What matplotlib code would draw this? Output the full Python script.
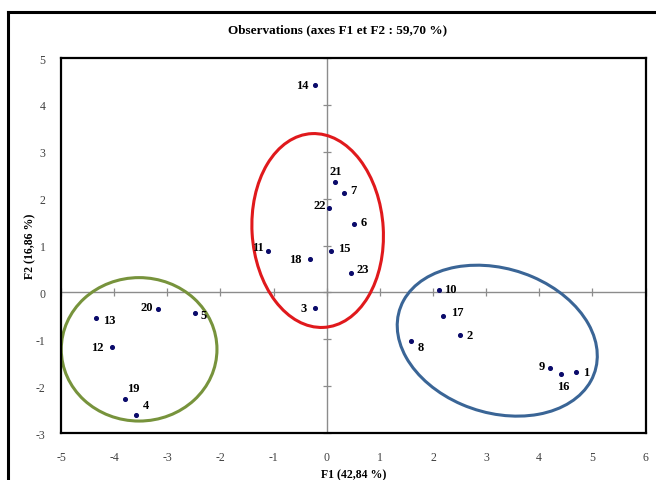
import matplotlib
matplotlib.use("Agg")
import matplotlib.pyplot as plt
from matplotlib.patches import Ellipse
from matplotlib.lines import Line2D

plt.rcParams["font.family"] = ["Liberation Serif", "DejaVu Serif"]
plt.rcParams["axes.unicode_minus"] = False

# observations (F1, F2)
labels = ["1", "2", "3", "4", "5", "6", "7", "8", "9", "10", "11", "12",
          "13", "14", "15", "16", "17", "18", "19", "20", "21", "22", "23"]
f1 = [4.69, 2.50, -0.22, -3.59, -2.48, 0.51, 0.32, 1.59, 4.21, 2.11, -1.10, -4.04,
      -4.34, -0.22, 0.08, 4.41, 2.18, -0.31, -3.79, -3.17, 0.15, 0.04, 0.45]
f2 = [-1.69, -0.91, -0.33, -2.62, -0.45, 1.45, 2.13, -1.04, -1.61, 0.05, 0.88, -1.17,
      -0.55, 4.43, 0.88, -1.75, -0.51, 0.72, -2.28, -0.35, 2.35, 1.81, 0.42]

x_ticks = list(range(-5, 7))
y_ticks = list(range(-3, 6))

# label offsets (points) and alignment
offsets = {
    "1": (5, 0, "left"), "2": (5, 0, "left"), "3": (-6, 0, "right"),
    "4": (5, 7, "left"), "5": (4, -1, "left"), "6": (5, 2, "left"),
    "7": (5, 2, "left"), "8": (5, -4, "left"), "9": (-4, 1, "right"),
    "10": (4, 1, "left"), "11": (-3, 3, "right"), "12": (-6, 0, "right"),
    "13": (5, -1, "left"), "14": (-5, 0, "right"), "15": (5, 2, "left"),
    "16": (-3, -8, "left"), "17": (6, 3, "left"), "18": (-6, 0, "right"),
    "19": (1, 8, "left"), "20": (-4, 1, "right"), "21": (-4, 8, "left"),
    "22": (-2, 2, "right"), "23": (4, 3, "left"),
}

fig = plt.figure(figsize=(6.56, 4.81), dpi=100)
ax = fig.add_axes([0.093, 0.0977, 0.891, 0.7796])

ax.set_xlim(-5, 6)
ax.set_ylim(-3, 5)
ax.set_xticks(x_ticks)
ax.set_yticks(y_ticks)
ax.tick_params(length=0, labelsize=8.5, labelcolor="#404040", pad=13)
ax.tick_params(axis="y", pad=11)
for s in ax.spines.values():
    s.set_linewidth(1.6)
    s.set_color("black")

# zero axes with crossing ticks
ax.axhline(0, color="#8c8c8c", lw=1, zorder=1)
ax.axvline(0, color="#8c8c8c", lw=1, zorder=1)
ax.plot(x_ticks, [0] * len(x_ticks), ls="none", marker="|", ms=6, mew=0.9,
        color="#8c8c8c", zorder=1, clip_on=False)
ax.plot([0] * len(y_ticks), y_ticks, ls="none", marker="_", ms=6, mew=0.9,
        color="#8c8c8c", zorder=1, clip_on=False)

ax.scatter(f1, f2, s=7, color="#0a0a6a", zorder=3)
for lab, x, y in zip(labels, f1, f2):
    dx, dy, ha = offsets[lab]
    ax.annotate(lab, (x, y), xytext=(dx, dy), textcoords="offset points",
                ha=ha, va="center", fontsize=9, fontweight="bold")

# group ellipses
ax.add_patch(Ellipse((-0.17, 1.32), 2.47, 4.14, angle=3, fill=False,
                     ec="#e0191c", lw=2.2, zorder=2))
ax.add_patch(Ellipse((-3.53, -1.215), 2.93, 3.06, angle=0, fill=False,
                     ec="#77933c", lw=2.2, zorder=2))
ax.add_patch(Ellipse((3.21, -1.03), 3.92, 3.03, angle=-26, fill=False,
                     ec="#3a6596", lw=2.2, zorder=2))

fig.text(338 / 656, 1 - 30 / 481, "Observations (axes F1 et F2 : 59,70 %)",
         ha="center", va="center", fontsize=9.5, fontweight="bold")
ax.set_xlabel("F1 (42,84 %)", fontsize=8.5, fontweight="bold", labelpad=4)
ax.set_ylabel("F2 (16,86 %)", fontsize=8.5, fontweight="bold")
ax.yaxis.set_label_coords(-25 / 584, 0.5)

# outer chart frame
fig.add_artist(Line2D([8 / 656, 8 / 656], [0, 1 - 13 / 481], color="black", lw=2.2))
fig.add_artist(Line2D([8 / 656, 1], [1 - 13 / 481, 1 - 13 / 481], color="black", lw=2.2))

fig.savefig("out.png", dpi=100)
